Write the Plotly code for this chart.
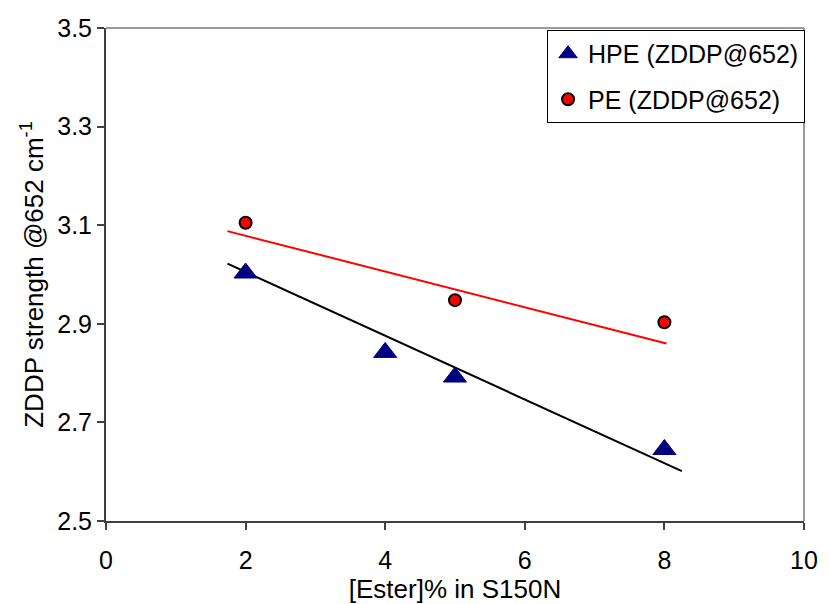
import plotly.graph_objects as go

# Ester concentration (%) and ZDDP band strength at 652 cm-1
ester_hpe = [2, 4, 5, 8]
zddp_hpe = [3.003, 2.842, 2.792, 2.645]
ester_pe = [2, 5, 8]
zddp_pe = [3.105, 2.948, 2.903]

# Linear trend lines (start/end points)
trend_x_hpe = [1.74, 8.25]
trend_y_hpe = [3.022, 2.601]
trend_x_pe = [1.74, 8.03]
trend_y_pe = [3.088, 2.860]

x_ticks = [0, 2, 4, 6, 8, 10]
y_ticks = [2.5, 2.7, 2.9, 3.1, 3.3, 3.5]

FONT = "Liberation Sans, Arial, sans-serif"

fig = go.Figure()

fig.add_trace(go.Scatter(
    x=trend_x_hpe, y=trend_y_hpe, mode="lines",
    line=dict(color="#000000", width=2), showlegend=False, hoverinfo="skip"))
fig.add_trace(go.Scatter(
    x=trend_x_pe, y=trend_y_pe, mode="lines",
    line=dict(color="#ff0000", width=2), showlegend=False, hoverinfo="skip"))

fig.add_trace(go.Scatter(
    x=ester_hpe, y=zddp_hpe, mode="markers", name="HPE (ZDDP@652)",
    legendgroup="hpe",
    marker=dict(symbol="triangle-up", size=20, color="#000080",
                line=dict(color="#000080", width=1))))
fig.add_trace(go.Scatter(
    x=ester_pe, y=zddp_pe, mode="markers", name="PE (ZDDP@652)",
    legendgroup="pe",
    marker=dict(symbol="circle", size=12, color="#ff0000",
                line=dict(color="#000000", width=2))))

axis_common = dict(
    showgrid=False, zeroline=False,
    showline=True, linecolor="#404040", linewidth=2,
    ticks="outside", ticklen=7, tickwidth=1.5, tickcolor="#404040",
    tickfont=dict(family=FONT, size=25, color="#000000"),
)

fig.update_xaxes(
    range=[0, 10], tickvals=x_ticks, ticktext=[str(v) for v in x_ticks],
    ticklabelstandoff=9,
    title=dict(text="[Ester]% in S150N", font=dict(family=FONT, size=26, color="#000000"),
               standoff=0),
    **axis_common)
fig.update_yaxes(
    range=[2.5, 3.5], tickvals=y_ticks, ticktext=[f"{v:.1f}" for v in y_ticks],
    title=dict(text="ZDDP strength @652 cm<sup>-1</sup>",
               font=dict(family=FONT, size=26, color="#000000"), standoff=6),
    **axis_common)

# light frame on the top and right sides of the plotting area
fig.add_shape(type="line", xref="paper", yref="paper", x0=0, x1=1, y0=1, y1=1,
              line=dict(color="#9a9a9a", width=2), layer="below")
fig.add_shape(type="line", xref="paper", yref="paper", x0=1, x1=1, y0=0, y1=1,
              line=dict(color="#9a9a9a", width=2), layer="below")

fig.update_layout(
    width=830, height=604,
    margin=dict(l=106, r=18, t=28, b=80),
    paper_bgcolor="#ffffff", plot_bgcolor="#ffffff",
    font=dict(family=FONT, size=25, color="#000000"),
    legend=dict(
        x=1.0015, y=0.996, xanchor="right", yanchor="top",
        bgcolor="#ffffff", bordercolor="#000000", borderwidth=1,
        font=dict(family=FONT, size=25, color="#000000"),
        traceorder="grouped", tracegroupgap=10,
    ),
)

fig.write_html("out.html")
